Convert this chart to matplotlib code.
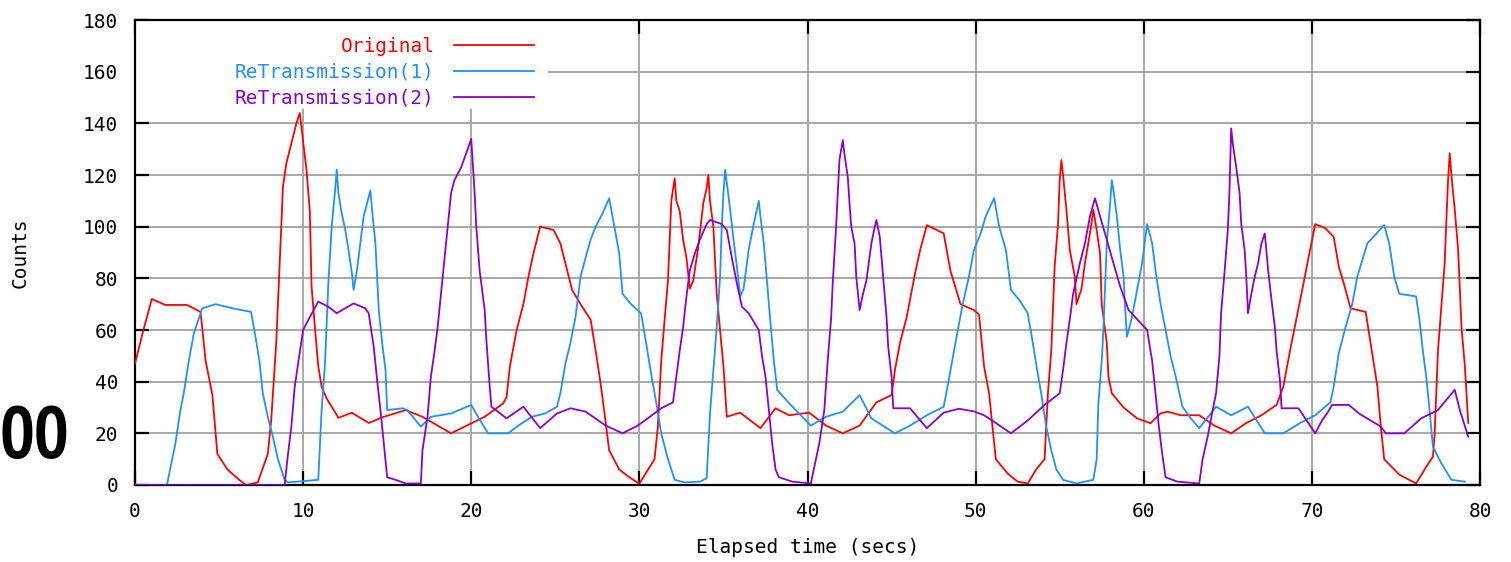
import matplotlib
matplotlib.use("Agg")
import matplotlib.pyplot as plt
from matplotlib import font_manager as fm
from matplotlib.patches import Rectangle

# (time, count) points
original = [(0, 47), (0.5, 60), (1.0, 72), (1.8, 69.7), (3.1, 69.7), (3.9, 67), (4.2, 48), (4.6, 35),
            (4.9, 12), (5.5, 6), (6.2, 2), (6.6, 0), (7.3, 1), (7.9, 12), (8.1, 25), (8.4, 55),
            (8.6, 84.5), (8.7, 100), (8.8, 115.5), (9.0, 124.5), (9.6, 140), (9.8, 144),
            (10.2, 122), (10.4, 106), (10.5, 77), (10.7, 61), (10.9, 46), (11.1, 38), (11.4, 33.5),
            (12.1, 26), (12.9, 28), (13.9, 24), (14.8, 26.4), (16.1, 29), (17.1, 26.4), (18.8, 20),
            (20.2, 24.5), (20.8, 26.4), (21.9, 31.6), (22.1, 34), (22.3, 46), (22.7, 60), (23.1, 70),
            (23.4, 80.6), (23.7, 89.7), (24.1, 100), (24.9, 98.7), (25.3, 93.5), (25.6, 85.8),
            (26.0, 75.5), (26.5, 70), (27.1, 64), (27.4, 52), (27.7, 39), (28.0, 24), (28.2, 13.5),
            (28.8, 6), (29.4, 3), (30.0, 0.5), (30.9, 10), (31.1, 22.6), (31.3, 48), (31.5, 64),
            (31.7, 79), (31.9, 110), (32.1, 118.7), (32.2, 110), (32.4, 106), (32.6, 95), (32.8, 88),
            (33.0, 76), (33.2, 79), (33.5, 92), (33.8, 109), (34.0, 115), (34.1, 120), (34.2, 110),
            (34.4, 100), (34.5, 87), (34.6, 74), (34.8, 60), (35.0, 46), (35.2, 26.4), (36.0, 28),
            (36.4, 26), (37.2, 22), (38.1, 29.7), (38.9, 27), (40.1, 28), (41.1, 23), (42.1, 20),
            (43.1, 23), (44.1, 32), (45.0, 34.8), (45.2, 44.5), (45.5, 55), (45.9, 65), (46.4, 82),
            (46.7, 91), (47.1, 100.6), (48.1, 97.4), (48.5, 83), (49.1, 70), (49.9, 67.7), (50.2, 66),
            (50.5, 46), (50.8, 35.5), (51.0, 22.6), (51.2, 10), (51.9, 4.5), (52.5, 1.3), (53.1, 0.6),
            (53.6, 6), (54.1, 10), (54.3, 35.5), (54.5, 52), (54.7, 84.5), (54.9, 101), (55.0, 118),
            (55.1, 125.8), (55.2, 120), (55.4, 106.5), (55.6, 91), (55.9, 80.6), (56.0, 70), (56.3, 76),
            (56.5, 85.8), (56.8, 97.4), (57.0, 106.5), (57.2, 98.7), (57.4, 89.7), (57.5, 70), (57.8, 55),
            (57.9, 42), (58.1, 35.5), (58.8, 30), (59.6, 25.8), (60.4, 23.9), (61.0, 27.7), (61.4, 28.4),
            (62.2, 27), (63.3, 27), (64.2, 23), (65.2, 20), (66.1, 24), (67.0, 27), (67.9, 31), (68.3, 38),
            (68.7, 52), (69.1, 65), (69.5, 78), (69.8, 88), (70.2, 101), (70.8, 99.4), (71.3, 96),
            (71.6, 84.5), (71.9, 78), (72.3, 68.4), (73.2, 67), (73.4, 58.7), (73.7, 46), (73.9, 38),
            (74.1, 22.6), (74.3, 10), (75.2, 4), (76.2, 0.6), (76.8, 7), (77.2, 11), (77.3, 19.5),
            (77.5, 52), (77.7, 69), (77.9, 86), (78.0, 102.6), (78.1, 118), (78.2, 128.4), (78.3, 120),
            (78.5, 106.5), (78.7, 91), (78.8, 76), (78.9, 61), (79.1, 46), (79.3, 24)]

retrans1 = [(0, 0), (1.9, 0), (2.4, 16), (2.7, 29), (2.9, 35.5), (3.2, 48), (3.5, 58.7), (4.0, 68.4),
            (4.8, 70), (5.8, 68.4), (6.9, 67), (7.1, 60), (7.4, 48), (7.6, 35.5), (7.9, 26.4), (8.2, 18.7),
            (8.5, 10), (8.9, 2), (9.1, 1), (10.9, 2), (11.1, 29), (11.3, 47), (11.5, 78), (11.7, 100),
            (11.9, 114), (12.0, 122), (12.1, 113), (12.3, 105), (12.5, 99), (12.7, 91), (12.9, 82),
            (13.0, 75.5), (13.2, 83), (13.4, 93.5), (13.6, 104), (13.9, 111.6), (14.0, 114), (14.1, 106.5),
            (14.3, 93.5), (14.5, 67.7), (14.7, 55), (14.9, 44.5), (15.0, 29), (15.9, 29.7), (16.2, 29),
            (17.0, 22.6), (17.6, 26.4), (18.8, 27.7), (20.0, 31), (20.4, 26.4), (21.0, 20), (22.2, 20),
            (22.8, 23), (23.6, 26.4), (24.4, 27.7), (25.1, 30.3), (25.3, 35.5), (25.6, 47), (25.9, 55),
            (26.2, 65), (26.5, 80.6), (26.8, 88), (27.1, 95), (27.4, 100), (27.8, 105), (28.2, 111),
            (28.4, 104), (28.8, 89.7), (29.0, 74), (29.5, 70), (30.1, 66.5), (30.4, 55), (30.7, 43),
            (31.0, 32), (31.3, 20), (31.7, 10), (32.1, 2), (32.7, 1), (33.6, 1.3), (34.0, 2.6),
            (34.2, 27.7), (34.4, 44.5), (34.6, 61), (34.8, 80.6), (34.9, 100), (35.0, 113), (35.1, 122),
            (35.2, 117), (35.4, 106.5), (35.6, 95), (35.8, 84.5), (36.0, 73), (36.2, 76), (36.5, 91),
            (36.8, 101), (37.1, 110), (37.2, 104), (37.4, 93.5), (37.6, 78), (37.8, 62.6), (38.0, 48),
            (38.2, 36.8), (39.0, 31), (40.2, 23), (41.1, 26.4), (42.1, 28.4), (43.1, 34.8), (43.8, 25.8),
            (45.2, 20), (46.1, 23), (47.1, 27), (48.1, 30.3), (48.4, 40.6), (48.8, 55), (49.2, 69),
            (49.6, 80.6), (49.9, 91), (50.3, 97.4), (50.6, 104), (51.1, 111), (51.4, 100), (51.8, 91),
            (52.1, 75.5), (52.6, 71.6), (53.1, 66.5), (53.4, 55), (53.7, 43), (53.9, 35.5), (54.2, 22.6),
            (54.5, 13.5), (54.8, 6), (55.2, 2), (56.0, 0.6), (57.0, 2), (57.2, 10), (57.3, 31.6),
            (57.5, 48), (57.6, 60), (57.8, 93.5), (58.0, 109), (58.1, 118), (58.2, 114), (58.4, 104),
            (58.6, 91), (58.8, 80.6), (58.9, 67.7), (59.0, 57.4), (59.3, 65), (59.6, 75.5), (59.9, 85.8),
            (60.2, 101), (60.5, 93.5), (60.7, 83), (61.0, 70), (61.3, 60), (61.6, 49.7), (61.9, 42),
            (62.3, 30.3), (62.8, 25.8), (63.3, 22), (64.3, 30.3), (65.2, 27), (66.2, 30.3), (67.2, 20),
            (68.3, 20), (69.3, 24), (70.2, 27), (71.1, 32), (71.3, 38), (71.6, 51), (72.0, 61), (72.4, 70),
            (72.7, 80.6), (73.0, 87), (73.3, 93.5), (74.3, 100.6), (74.6, 93.5), (74.9, 80.6), (75.2, 74),
            (76.2, 73), (76.4, 64), (76.6, 52), (76.8, 42), (77.0, 29), (77.2, 14.8), (77.7, 8.4),
            (78.3, 2), (79.1, 1.3)]

retrans2 = [(0, 0), (8.9, 0), (9.1, 12), (9.3, 22.6), (9.5, 38), (9.7, 47), (10.0, 60), (10.4, 65),
            (10.9, 71), (11.5, 69), (12.0, 66.5), (13.0, 70.3), (13.7, 68.4), (13.9, 66.5), (14.2, 53.5),
            (14.4, 40.6), (14.6, 29), (14.8, 16), (15.0, 3), (15.5, 2), (16.1, 0.6), (17.0, 0.6),
            (17.1, 13.5), (17.4, 26.4), (17.6, 42), (17.8, 51), (18.0, 61), (18.2, 74), (18.4, 87),
            (18.6, 100), (18.8, 113), (19.0, 118), (19.4, 123), (19.7, 128.4), (20.0, 134), (20.2, 113),
            (20.3, 100), (20.5, 83), (20.8, 67.7), (20.9, 56), (21.1, 38), (21.2, 30.3), (22.1, 25.8),
            (23.1, 30.3), (24.1, 22), (25.1, 27.7), (25.9, 29.7), (26.8, 28.4), (28.0, 23), (29.0, 20),
            (29.9, 23), (30.5, 25.8), (31.3, 29.7), (32.0, 32), (32.2, 42), (32.4, 52), (32.6, 61),
            (32.8, 73), (33.0, 83), (33.3, 89.7), (33.6, 95), (34.0, 101), (34.2, 102.6), (34.9, 101),
            (35.2, 98.7), (35.5, 88), (35.8, 78), (36.1, 69), (36.5, 66.5), (37.1, 60), (37.3, 49.7),
            (37.5, 42), (37.7, 29), (37.9, 16), (38.1, 6), (38.3, 3), (39.1, 1.3), (40.2, 0.6),
            (40.5, 10), (40.7, 16), (41.0, 29), (41.2, 48), (41.4, 64), (41.5, 78), (41.7, 100),
            (41.9, 125.8), (42.1, 133.5), (42.2, 128), (42.4, 119), (42.5, 109), (42.6, 100), (42.8, 93.5),
            (42.9, 80.6), (43.1, 67.7), (43.3, 74), (43.5, 79), (43.8, 93.5), (44.0, 100), (44.1, 102.6),
            (44.3, 96), (44.5, 80.6), (44.7, 65), (44.8, 53.5), (45.0, 42), (45.1, 29.7), (46.1, 29.7),
            (47.1, 22), (48.1, 28), (49.0, 29.5), (49.9, 28.5), (50.5, 27), (51.2, 24), (52.1, 20),
            (53.1, 25), (54.1, 31), (55.0, 35.5), (55.2, 44.5), (55.4, 55), (55.6, 64), (55.8, 74),
            (56.2, 85.8), (56.5, 93.5), (56.8, 104), (57.1, 111), (57.4, 104), (57.8, 95), (58.2, 85.8),
            (58.6, 76.8), (59.1, 67.7), (60.2, 60), (60.5, 48), (60.7, 35.5), (60.9, 22.6), (61.1, 12),
            (61.3, 3), (62.0, 1.3), (63.3, 0.6), (63.5, 10), (63.8, 18.7), (64.1, 29), (64.3, 35.5),
            (64.5, 49.7), (64.6, 66.5), (64.8, 82), (65.0, 98.7), (65.1, 114), (65.2, 138), (65.3, 132),
            (65.5, 123), (65.7, 113), (65.8, 101), (66.0, 91), (66.1, 80.6), (66.2, 66.5), (66.4, 74),
            (66.6, 80.6), (66.8, 85.8), (67.0, 93.5), (67.2, 97.4), (67.4, 83), (67.6, 71.6), (67.8, 61),
            (67.9, 52), (68.1, 40.6), (68.2, 29.7), (69.2, 29.7), (70.2, 20), (70.6, 25), (70.9, 27.7),
            (71.2, 31), (72.2, 31), (72.8, 27.7), (74.1, 22.6), (74.4, 20), (75.5, 20), (76.5, 25.8),
            (77.5, 29), (78.0, 33), (78.5, 36.8), (78.8, 29), (79.3, 18.7)]

series_names = ["Original", "ReTransmission(1)", "ReTransmission(2)"]
series_colors = ["#ff0000", "#1e90ff", "#8a00d4"]
x_ticks = [0, 10, 20, 30, 40, 50, 60, 70, 80]
y_ticks = [0, 20, 40, 60, 80, 100, 120, 140, 160, 180]

mono = "DejaVu Sans Mono"

fig = plt.figure(figsize=(15.11, 5.62), dpi=100)
ax = fig.add_axes([135 / 1511, 77 / 562, 1345 / 1511, 465 / 562])

for data, name, color in zip([original, retrans1, retrans2], series_names, series_colors):
    xs = [p[0] for p in data]
    ys = [p[1] for p in data]
    ax.plot(xs, ys, color=color, lw=1.3, label=name, zorder=3)

ax.set_xlim(0, 80)
ax.set_ylim(0, 180)
ax.set_xticks(x_ticks)
ax.set_yticks(y_ticks)
ax.grid(True, color="#a8a8a8", lw=1.4)
ax.set_axisbelow(True)
for s in ax.spines.values():
    s.set_linewidth(1.6)
    s.set_color("black")
ax.tick_params(direction="in", length=10, width=1.6, top=True, right=True,
               labelsize=14, pad=12)
for lab in ax.get_xticklabels() + ax.get_yticklabels():
    lab.set_fontfamily(mono)

ax.set_xlabel("Elapsed time (secs)", fontsize=14, fontfamily=mono)
ax.xaxis.set_label_coords(0.5, -0.115)
ax.set_ylabel("Counts", fontsize=14, fontfamily=mono)
ax.yaxis.set_label_coords(-0.078, 0.5)

# white key area hides the grid behind the legend
ax.add_patch(Rectangle((0, 0.808), (548 - 135) / 1345, 0.192, transform=ax.transAxes,
                       facecolor="white", edgecolor="none", zorder=2))
leg = ax.legend(loc="upper right", bbox_to_anchor=((534 - 135) / 1345, 0.963),
                markerfirst=False, frameon=False, borderaxespad=0, borderpad=0,
                handlelength=4.1, handletextpad=1.0, labelspacing=0.34,
                labelcolor="linecolor", prop={"family": mono, "size": 14})
leg.set_zorder(5)

# stray label at the left edge of the image; prefer a narrow bold face
narrow = None
for f in fm.fontManager.ttflist:
    if "Narrow" in f.name and f.weight in ("bold", 700):
        narrow = fm.FontProperties(fname=f.fname, size=53)
        break
if narrow is None:
    for f in fm.fontManager.ttflist:
        if "Condensed" in f.name and f.weight in ("bold", 700):
            narrow = fm.FontProperties(fname=f.fname, size=53)
            break
if narrow is None:
    narrow = fm.FontProperties(family="DejaVu Sans", weight="bold", size=53)

t = fig.text(0.0, (562 - 458) / 562, "00", fontproperties=narrow, color="black",
             ha="left", va="baseline")
fig.canvas.draw()
w = t.get_window_extent().width
if w > 70:
    t.set_fontsize(53 * 70 / w)

fig.savefig("out.png", dpi=100)
